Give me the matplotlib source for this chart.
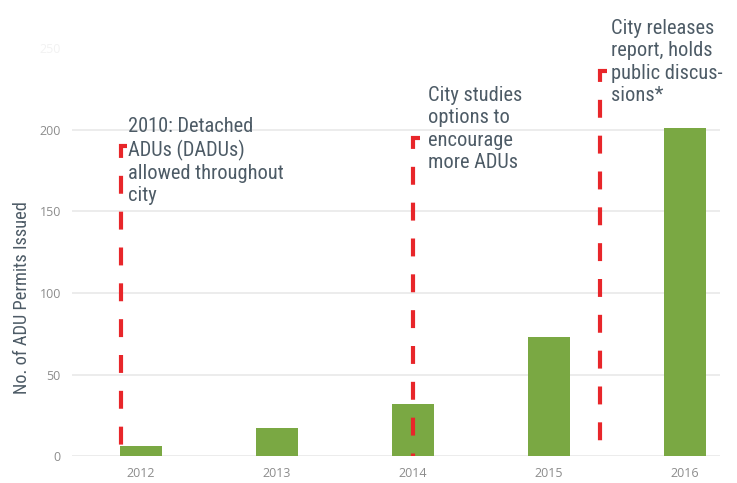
import matplotlib
matplotlib.use("Agg")
import matplotlib.pyplot as plt
from matplotlib import font_manager

years = ["2012", "2013", "2014", "2015", "2016"]
permits = [6, 17, 32, 73, 201]
yticks = [0, 50, 100, 150, 200, 250]

events = [
    "2010: Detached\nADUs (DADUs)\nallowed throughout\ncity",
    "City studies\noptions to\nencourage\nmore ADUs",
    "City releases\nreport, holds\npublic discus-\nsions*",
]
event_x = [-0.15, 2.0, 3.38]
event_top = [190, 195, 236]
text_x = [-0.095, 2.11, 3.46]
text_top = [208, 227, 268]

names = {f.name for f in font_manager.fontManager.ttflist}
narrow = "Roboto"
for cand in ["Roboto Condensed", "Liberation Sans Narrow", "Arial Narrow"]:
    if cand in names:
        narrow = cand
        break

fig = plt.figure(figsize=(7.37, 4.83), dpi=100)
ax = fig.add_axes([72/737, 1 - 456/483, (720-72)/737, (456-48.5)/483])

ax.bar(range(len(years)), permits, width=0.31, color="#7aa843", zorder=2)
ax.set_xlim(-0.507, 4.26)
ax.set_ylim(0, 250)
ax.set_yticks(yticks)
ax.set_xticks(range(len(years)))
ax.set_xticklabels(years)
for y in yticks[:-1]:
    ax.axhline(y, color="#e9e9e9", lw=1.2, zorder=0)
for s in ax.spines.values():
    s.set_visible(False)
ax.tick_params(length=0, labelsize=9, labelcolor="#8c8c8c", pad=8)
for lab in ax.get_xticklabels() + ax.get_yticklabels():
    lab.set_family("Open Sans")
ax.get_yticklabels()[-1].set_color("#f2f2f2")

ax.set_ylabel("No. of ADU Permits Issued", family=narrow, fontsize=13.2,
              color="#4d5b66")
ax.yaxis.set_label_coords((31 - 72) / 648, (456 - 298) / 407.5)

hook = 0.05
for x, top, txt, tx, tt in zip(event_x, event_top, events, text_x, text_top):
    ax.plot([x + hook, x, x], [top, top, 0], color="#e8262a", lw=3,
            linestyle=(0, (4.3, 4.3)), zorder=3, clip_on=False,
            solid_joinstyle="miter", dash_joinstyle="miter", dash_capstyle="butt")
    ax.text(tx, tt, txt, family=narrow, fontsize=14.7, color="#4d5b66",
            va="top", ha="left", linespacing=1.22, clip_on=False, zorder=4)

fig.savefig("out.png", dpi=100, facecolor="white")
